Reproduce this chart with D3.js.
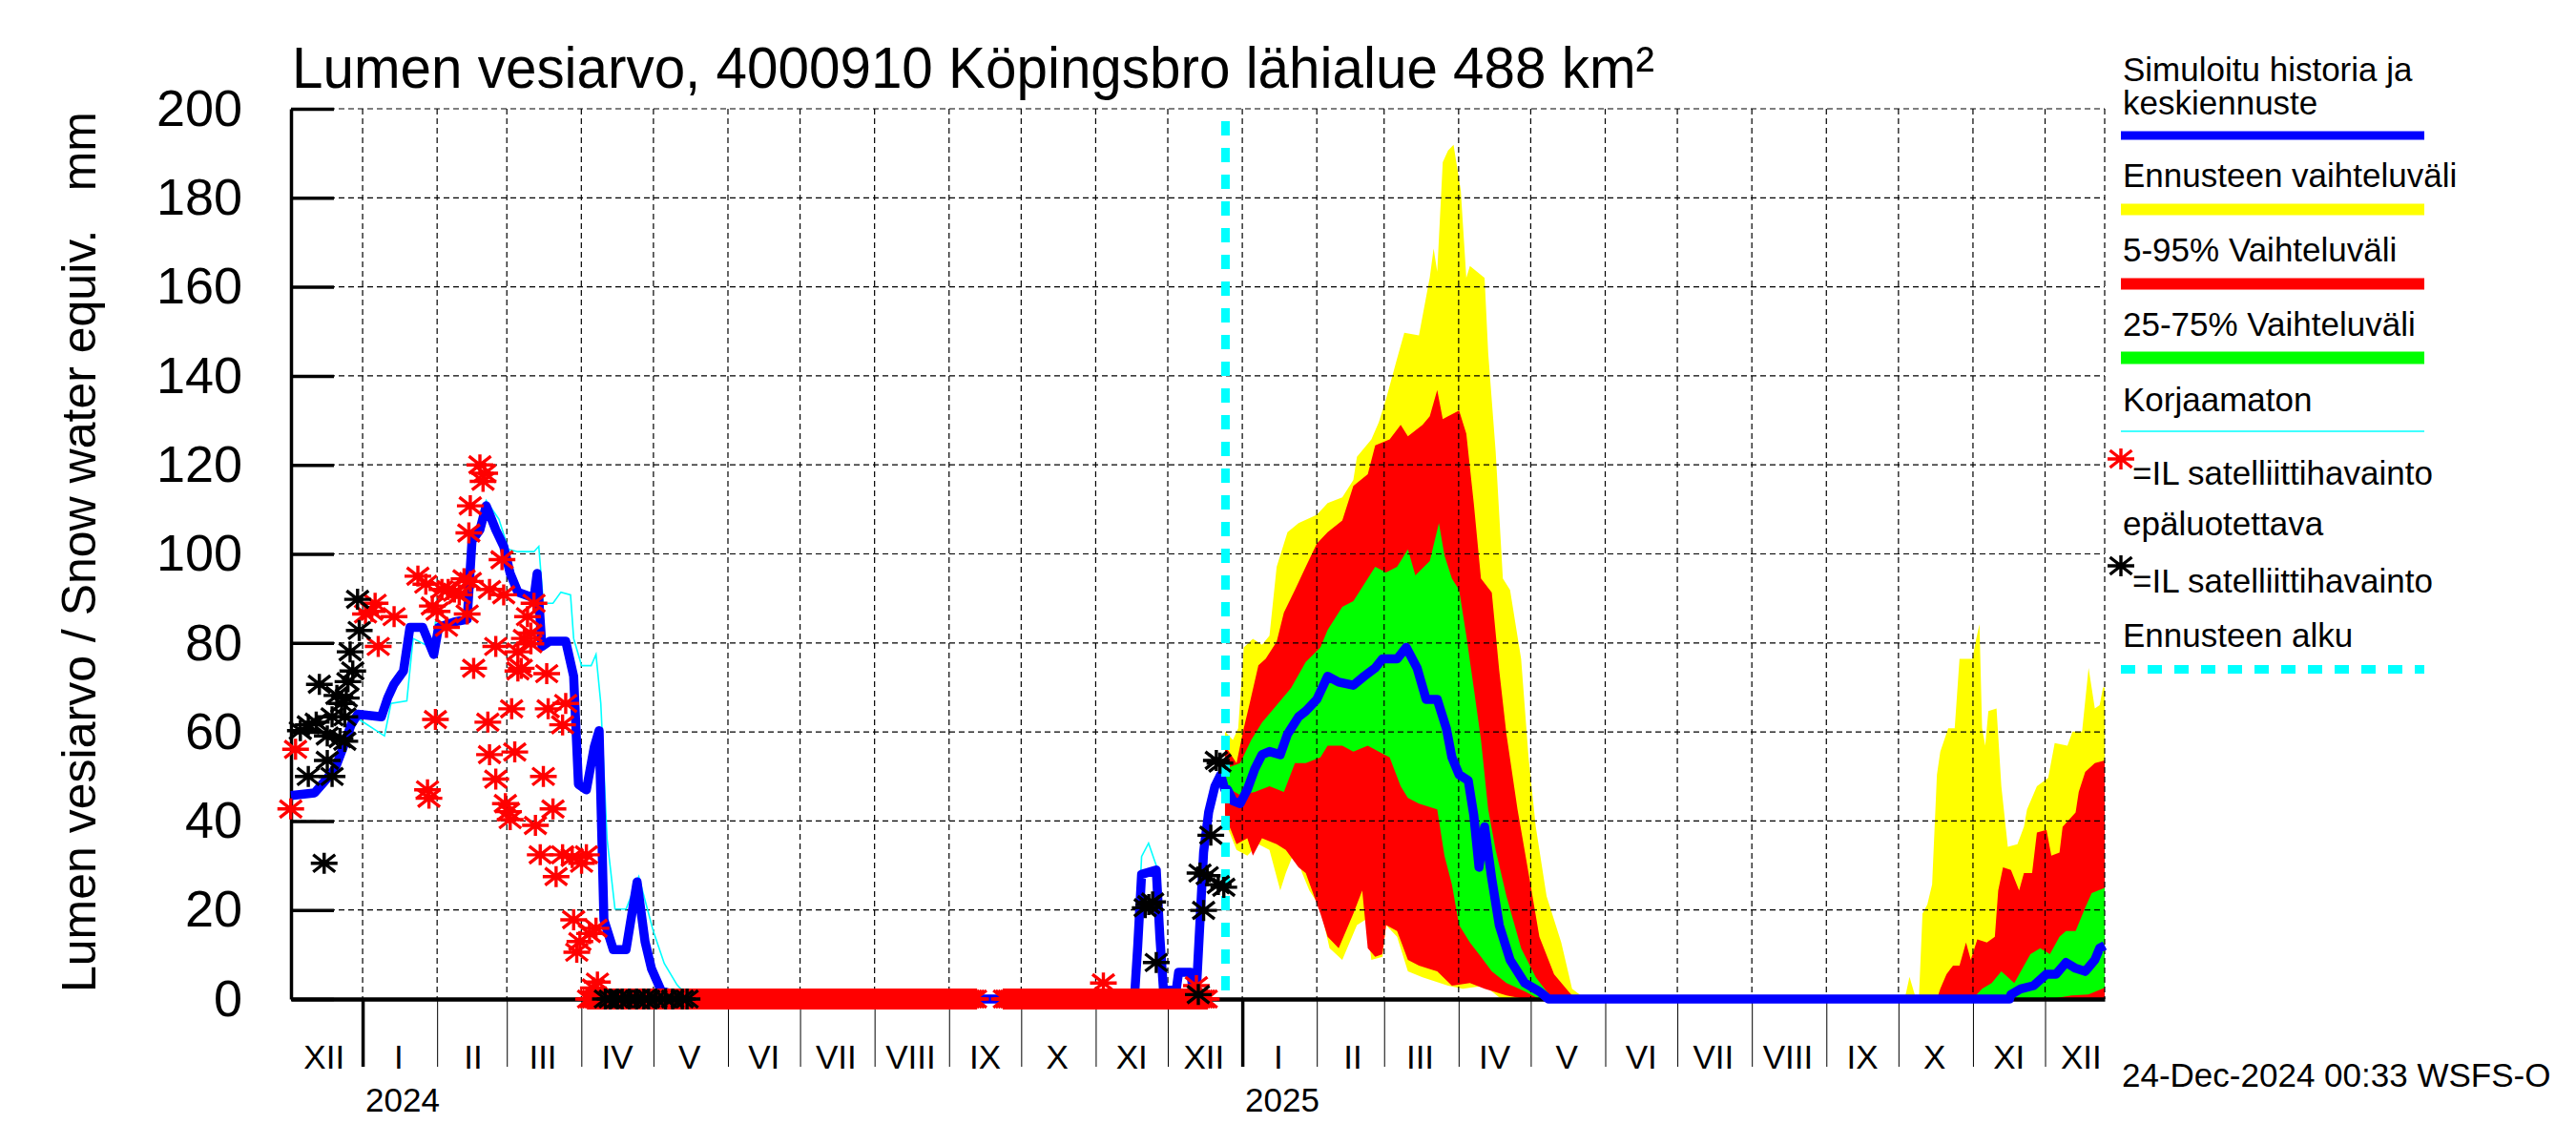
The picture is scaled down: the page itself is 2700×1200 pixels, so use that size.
<!DOCTYPE html>
<html>
<head>
<meta charset="utf-8">
<script src="https://cdn.jsdelivr.net/npm/d3@7"></script>
<style>
  body { margin: 0; background: #fff; }
  svg { display: block; }
  text { font-family: "Liberation Sans", Arial, Helvetica, sans-serif; fill: #000; }
</style>
</head>
<body>
<svg id="chart" width="2700" height="1200"></svg>
<script>
// ---- data -------------------------------------------------------------
// history arrays: [days since 2024-01-01, mm]; fc* arrays: [days since 2025-01-01, mm]
const yTicks = [0, 20, 40, 60, 80, 100, 120, 140, 160, 180, 200];
const romanMonths = ["I","II","III","IV","V","VI","VII","VIII","IX","X","XI","XII"];
const yearLabels = ["2024", "2025"];
const forecastStartDay = 359;

const blueHist = [[-29.8,45.7],[-20,46.3],[-16,48.8],[-11.4,51.8],[-8,56.7],[-4.8,61.6],[-2,64],[7.8,63.4],[10.4,67.6],[13,70.7],[17,73.7],[19.7,83.5],[25,83.5],[29.6,77.4],[31.6,83.5],[38,84.7],[43.5,85.3],[45.5,102.9],[48.8,105.4],[51.4,110.8],[55.4,105.4],[58.7,101.7],[61.4,95.6],[64.6,91.4],[71.3,90.1],[72.6,95.6],[74.6,79.2],[77.9,80.4],[84.5,80.4],[87.8,72.5],[89.8,48.2],[93.1,47],[96.4,56.7],[98.4,60.3],[100.4,17.8],[104.3,11.1],[109.6,11.1],[114.2,26.3],[117.5,12.9],[120.2,6.8],[124.2,1.9],[130.8,0.7],[133,0],
  [321.1,0],[322.5,12],[324.1,28],[330.2,29],[331.7,14],[333.2,2],[338.5,2],[339.5,6],[344.5,6],[345.8,1],[347,3],[349.9,33],[352,42],[354.6,47.8],[357,50.4],[358.7,47.1]];

const fcBlue = [[-7.3,47.1],[-6.2,47.1],[-3.9,44.5],[-0.9,43.9],[2.1,47.1],[5.2,51.7],[8.2,54.9],[11.3,55.6],[15.8,54.9],[18.8,59.5],[23.4,63.4],[26.4,64.7],[31,67.3],[35.5,72.5],[40.1,71.2],[46.2,70.5],[50.7,72.5],[55.3,74.4],[58.3,76.4],[64.4,76.4],[68.2,79],[72.7,74.4],[76.5,67.3],[81.1,67.3],[84.9,60.8],[87.2,54.3],[90.2,50.4],[94,49.1],[96.3,41.3],[98.5,29.6],[100.8,38.7],[103.8,27],[106.9,16.6],[111.4,8.8],[117.5,3.6],[123.6,1.7],[127.4,0],
  [319.2,0],[319.8,1],[323.9,2.3],[329.2,3],[334.6,5.6],[338.6,5.6],[342.7,8.2],[346.7,6.9],[350.7,6.2],[354.7,8.8],[356.7,11.4],[358.8,12]];

const cyanHist = [[-29.8,45.7],[-20,46.3],[-16,48.8],[-11.4,51.8],[-8,56.7],[-4.8,61.6],[-1.4,62.8],[9.1,59.1],[11.8,66.4],[18.4,67],[21,81],[27.6,79.2],[29,77],[30.3,84.7],[43.5,84.7],[46.2,103],[51.4,112],[56.7,107.8],[60.7,101],[64.6,100.5],[71.3,100.5],[73.3,101.7],[75.2,88.9],[79.2,88.9],[82.5,91.4],[86.5,90.8],[87.8,81],[91.1,74.9],[95.1,74.9],[97.1,77.4],[99.1,66.4],[101.7,36],[105,20.2],[109.6,20.2],[114.9,27.5],[120.9,15.3],[125.5,8],[130.8,3.2],[136.1,0],
  [321.1,0],[322.5,14],[324.1,32],[327,35],[330.2,30],[331.7,14],[333.2,2],[338.5,2],[339.5,6],[344.5,6],[345.8,1],[347,3],[349.9,35],[352,44],[354.6,49],[357,51],[358.7,47.5]];

const fcMax = [[-7.2,60.1],[-3.9,58.2],[-1.7,60.8],[0.6,79],[4.4,80.9],[8.2,79.6],[11.3,81.6],[14.3,97.1],[18.8,104.9],[23.4,106.9],[31,108.8],[35.5,111.4],[41.6,112.7],[46.2,116.6],[47.7,121.8],[53.7,125.7],[56.8,129.6],[59.8,134.8],[64.4,143.9],[67.4,149.7],[73.5,149.1],[78,162.1],[79.6,168.6],[81.1,163.4],[83.4,188],[85.6,190.6],[87.9,191.9],[90.9,181.6],[93.2,162],[94.7,164.7],[96.3,164],[100.8,162],[102.3,145.2],[105.4,123.1],[108.4,94.5],[111.4,91.9],[116,76.4],[119.1,54.3],[122.1,38.7],[126.6,23.1],[132.7,12.7],[137.2,2.3],[140.3,1],[142.5,0],
  [275.6,0],[277.6,5],[280.3,0],[281.5,0],[283,19.2],[285,21.2],[287,25.7],[289,50.4],[290.4,55.6],[293.7,60.8],[296.4,60.8],[298.4,76.4],[303.8,76.4],[305.1,80.3],[306.7,84.2],[307.8,60.8],[309.1,56.9],[310.4,64.7],[313.8,65.3],[315.8,47.8],[318.5,34.2],[322.5,34.8],[325.2,38.7],[326.5,42.6],[330.6,47.8],[335.3,49.7],[338,57.5],[343.3,56.9],[345.4,60.1],[349.4,60.1],[352.1,74.4],[354.7,65.3],[356.7,66],[358.1,70],[358.8,70]];
const fcMin = [[-7.2,40],[-2.4,33.5],[2.1,32.2],[6.7,34.8],[11.3,33.5],[15.8,24.4],[18.1,28.3],[21.9,33.5],[24.9,28.3],[27.9,24.4],[32.5,20.5],[36.3,11.4],[41.6,8.8],[47.7,16.6],[51.5,17.9],[53.7,8.8],[58.3,9.5],[59.8,16.6],[64.4,14],[68.9,6.2],[75,4.9],[85.6,3],[91.7,2.3],[100.8,3],[106.9,0.4],[109.9,0],[358.8,0]];

const fcP95 = [[-7.2,56.9],[-2.4,53],[0.6,60.8],[2.9,66],[6.7,75],[9.7,76.4],[14.3,80.3],[17.3,86.8],[21.9,91.9],[26.4,97.1],[31,102.3],[35.5,104.9],[41.6,107.5],[46.2,115.3],[52.2,117.9],[55.3,124.4],[61.3,125.7],[65.9,129],[68.9,126.4],[75,129],[78,130.9],[81.1,136.8],[83.4,130.3],[85.6,130.9],[90.2,132.2],[93.2,127],[96.3,111.4],[99.3,94.5],[103.8,91.3],[106.9,73.8],[109.9,59.5],[114.5,42.6],[119.1,28.3],[123.6,14],[129.7,5.6],[135.7,1.7],[138.7,0],
  [289,0],[290.4,2.3],[293,5.6],[295.7,7.5],[298.4,7.5],[301.1,12.7],[303.1,8.8],[305.8,13.4],[309.8,12.7],[313.1,14],[314.5,24.4],[316.5,29.6],[319.8,29],[323.2,24.4],[325.2,28.3],[328.6,28.3],[330.6,37.4],[334.6,38],[336.6,32.2],[340,32.9],[341.3,38.7],[346.7,41.9],[348,46.5],[350.7,51],[354.7,53],[358.8,53.6]];
const fcP05 = [[-7.2,41.3],[-2.4,34.8],[2.1,36.1],[4.4,32.2],[8.2,36.1],[14.3,34.8],[18.1,33.5],[23.4,29.6],[26.4,28.3],[32.5,19.2],[35.5,14],[40.1,11.4],[46.2,19.2],[49.9,24.4],[52.2,11.4],[55.3,9.5],[58.3,10.1],[59.8,16.6],[64.4,15.3],[68.9,8.8],[73.5,7.5],[81.1,6.2],[87.2,3],[94.7,3.6],[100.8,2.3],[109.9,0.8],[117.5,0],[358.8,0]];

const fcP75 = [[-7.2,51.7],[-0.9,53],[3.7,58.2],[8.2,62.1],[14.3,66],[20.3,69.9],[26.4,75.7],[32.5,79],[35.5,82.9],[41.6,88.1],[46.2,89.4],[50.7,93.2],[55.3,97.1],[59.8,95.8],[64.4,97.1],[68.9,101],[72,95.2],[78,98.4],[81.8,106.9],[84.1,99.7],[87.2,94.5],[90.2,91.9],[93.2,81.6],[96.3,69.9],[99.3,58.2],[102.3,42.6],[105.4,33.5],[109.9,23.1],[116,11.4],[122.1,4.9],[126.6,1.7],[129.7,0],
  [303.8,0],[307.8,2.3],[311.8,3.6],[315.8,6.2],[321.2,3.6],[327.9,10.1],[332,11.4],[336,10.1],[340,14],[342.7,15.3],[346.7,15.3],[350.7,20.5],[353.4,23.8],[358.8,25]];
const fcP25 = [[-7.2,47.8],[-0.9,45.8],[5.2,46.5],[11.3,47.8],[17.3,46.5],[21.9,53],[26.4,53],[32.5,54.3],[35.5,56.9],[41.6,56.9],[46.2,55.6],[52.2,56.9],[56.8,55.6],[61.3,54.3],[65.9,47.8],[68.9,45.2],[73.5,43.9],[81.1,42.6],[84.1,32.2],[87.2,25.7],[90.2,16.6],[94.7,12.7],[99.3,9.5],[103.8,6.2],[109.9,3.6],[117.5,1.7],[123.6,0],[336,0],[345,0.8],[352,1],[358.8,2.5]];

// satellite observations, "unreliable" (red) and regular (black)
const redObs = [[-29.9,42.7],[-27.9,56.1],[1.2,86.5],[3.8,87.1],[5.2,88.9],[6.5,79.2],[13.1,85.9],[23,95],[26.3,93.2],[27,47],[27.6,45.1],[29,88.3],[30.3,62.8],[31,87.1],[33,92],[34.9,83.5],[35.6,92],[38.2,91.4],[40.2,90.8],[42.2,94.4],[43.5,86.5],[44.2,104.7],[44.8,110.8],[44.8,93.8],[46.2,74.3],[48.8,120],[50.1,116.3],[50.8,118.1],[52.1,62.2],[52.8,54.9],[52.8,92],[55.4,49.4],[55.4,79.2],[58,98.7],[58.7,90.8],[59.4,43.9],[60.7,42.1],[61.4,40.3],[62,65.2],[63.3,55.5],[64.6,78],[64.6,73.7],[66,74.3],[67.3,81],[68.6,85.9],[70,82.2],[70,79.8],[71.3,88.9],[71.9,39],[73.9,32.4],[75.2,50],[76.6,73.1],[77.2,65.2],[79.2,42.7],[80.5,27.5],[83.2,32.4],[83.2,61.6],[84.5,66.4],[87.2,31.8],[87.8,17.8],[89.1,10.5],[90.4,12.9],[91.1,30.5],[93.1,32.4],[94.4,14.7],[96,2.5],[97.1,15.9],[97.7,3.8],[308.2,3.6],[346.9,3]];
// daily zero readings: [first day, last day]
const redZeroRuns = [[94, 255], [267, 351]];

const blackObs = [[-25.9,60.3],[-22.6,61.6],[-22.6,50],[-19.3,62.2],[-18,70.7],[-16,30.5],[-14.7,59.1],[-14.7,53.6],[-12.7,63.4],[-12.7,50],[-10.7,68.2],[-9.4,58.5],[-8.7,66.4],[-7.4,63.4],[-7.4,57.9],[-6.8,67.6],[-6.1,71.3],[-5.2,78],[-4.1,73.7],[-2.1,89.8],[-1.4,82.8],
  [101,0],[103,0],[106,0],[108,0],[111,0],[114,0],[117,0],[119,0],[122,0],[126,0],[129,0],[133,0],[135,0],
  [325.6,20.5],[327.1,21.2],[328.7,21.8],[330.2,8.2],[347.7,1],[348.4,28.3],[349.9,19.9],[351.4,27.7],[352.9,36.8],[355.2,53.6],[356,25.7],[356.7,53],[358.3,25.1]];

// ---- helpers ------------------------------------------------------------
const DAY = 864e5;
const h = d => new Date(Date.UTC(2024, 0, 1) + d * DAY);
const f = d => new Date(Date.UTC(2025, 0, 1) + d * DAY);

const pL = 305, pR = 2206, pT = 114, pB = 1047;

const x = d3.scaleUtc().domain([h(-29.8), h(724.8)]).range([pL, pR]);
const y = d3.scaleLinear().domain([0, 200]).range([pB, pT]);

const svg = d3.select('#chart');
svg.append('rect').attr('width', 2700).attr('height', 1200).attr('fill', '#fff');

const line = d3.line().x(p => x(p[0])).y(p => y(p[1]));
const band = (hi, lo) => line([...hi.map(p => [f(p[0]), p[1]]), ...lo.slice().reverse().map(p => [f(p[0]), p[1]])]) + 'Z';

// ---- bands --------------------------------------------------------------
const gBands = svg.append('g');
gBands.append('path').attr('d', band(fcMax, fcMin)).attr('fill', '#ffff00');
gBands.append('path').attr('d', band(fcP95, fcP05)).attr('fill', '#ff0000');
gBands.append('path').attr('d', band(fcP75, fcP25)).attr('fill', '#00ff00');

// ---- grid ---------------------------------------------------------------
const monthStarts = d3.utcMonth.range(h(0), h(725));
const grid = svg.append('g').attr('stroke', '#000').attr('stroke-width', 1.2).attr('stroke-dasharray', '6,4');
grid.selectAll('line.h').data(yTicks.slice(1)).join('line')
  .attr('x1', pL).attr('x2', pR).attr('y1', d => y(d)).attr('y2', d => y(d));
grid.selectAll('line.v').data(monthStarts).join('line')
  .attr('x1', d => x(d)).attr('x2', d => x(d)).attr('y1', pT).attr('y2', pB);
grid.append('line').attr('x1', pR).attr('x2', pR).attr('y1', pT).attr('y2', pB);

// ---- axes ---------------------------------------------------------------
const xAxis = svg.append('g').attr('transform', `translate(0,${pB})`)
  .call(d3.axisBottom(x).tickValues(monthStarts).tickSize(71).tickSizeOuter(0).tickFormat(''));
xAxis.select('.domain').attr('stroke', '#000').attr('stroke-width', 4.5);
xAxis.selectAll('.tick line').attr('stroke', '#000')
  .attr('stroke-width', d => d.getUTCMonth() === 0 ? 3.5 : 1);

const yAxis = svg.append('g').attr('transform', `translate(${pL},0)`)
  .call(d3.axisLeft(y).tickValues(yTicks).tickSize(-45).tickSizeOuter(0).tickPadding(51).tickFormat(d3.format('d')));
yAxis.select('.domain').attr('stroke', '#000').attr('stroke-width', 3.5);
yAxis.selectAll('.tick line').attr('stroke', '#000').attr('stroke-width', 3.5);
yAxis.selectAll('.tick text').attr('font-size', 54).attr('font-family', '"Liberation Sans", Arial, sans-serif').attr('fill', '#000');

// month and year labels
const labelMonths = d3.utcMonth.range(new Date(Date.UTC(2023, 11, 1)), new Date(Date.UTC(2026, 0, 1)));
svg.append('g').selectAll('text').data(labelMonths).join('text')
  .attr('x', d => x(new Date(d.getTime() + 15 * DAY)))
  .attr('y', 1120).attr('text-anchor', 'middle').attr('font-size', 35)
  .text(d => romanMonths[d.getUTCMonth()]);
svg.append('g').selectAll('text').data(yearLabels).join('text')
  .attr('x', d => x(new Date(Date.UTC(+d, 0, 1))) + 3)
  .attr('y', 1165).attr('font-size', 35).text(d => d);

// ---- lines --------------------------------------------------------------
svg.append('path').attr('d', line(cyanHist.map(p => [h(p[0]), p[1]])))
  .attr('fill', 'none').attr('stroke', '#00ffff').attr('stroke-width', 1.6);
svg.append('path').attr('d', line([...blueHist.map(p => [h(p[0]), p[1]]), ...fcBlue.map(p => [f(p[0]), p[1]])]))
  .attr('fill', 'none').attr('stroke', '#0000ff').attr('stroke-width', 9.5).attr('stroke-linejoin', 'round');

// forecast start
svg.append('line').attr('x1', x(h(forecastStartDay))).attr('x2', x(h(forecastStartDay)))
  .attr('y1', 127).attr('y2', pB)
  .attr('stroke', '#00ffff').attr('stroke-width', 9).attr('stroke-dasharray', '15,13');

// ---- observation markers -----------------------------------------------
const star = 'M-14,0H14M0,-11V11M-11.5,-9L11.5,9M-11.5,9L11.5,-9';
const redAll = [...redObs];
redZeroRuns.forEach(([a, b]) => { for (let d = a; d <= b; d++) redAll.push([d, 0]); });

svg.append('g').selectAll('path').data(redAll).join('path')
  .attr('d', star).attr('transform', p => `translate(${x(h(p[0]))},${y(p[1])})`)
  .attr('fill', 'none').attr('stroke', '#ff0000').attr('stroke-width', 3.4);
svg.append('g').selectAll('path').data(blackObs).join('path')
  .attr('d', star).attr('transform', p => `translate(${x(h(p[0]))},${y(p[1])})`)
  .attr('fill', 'none').attr('stroke', '#000').attr('stroke-width', 3.4);

// ---- texts --------------------------------------------------------------
svg.append('text').attr('x', 306).attr('y', 92).attr('font-size', 62)
  .attr('textLength', 1428).attr('lengthAdjust', 'spacingAndGlyphs')
  .text('Lumen vesiarvo, 4000910 Köpingsbro lähialue 488 km²');

svg.append('text').attr('transform', 'translate(100,1040) rotate(-90)')
  .attr('font-size', 50)
  .text('Lumen vesiarvo / Snow water equiv.');
svg.append('text').attr('transform', 'translate(100,117) rotate(-90)')
  .attr('font-size', 50).attr('text-anchor', 'end').text('mm');

svg.append('text').attr('x', 2224).attr('y', 1139).attr('font-size', 35)
  .text('24-Dec-2024 00:33 WSFS-O');

// ---- legend -------------------------------------------------------------
const lg = svg.append('g');
const lx = 2225, lx2 = 2541;
const legText = [
  ['Simuloitu historia ja', lx, 85], ['keskiennuste', lx, 119.5],
  ['Ennusteen vaihteluväli', lx, 196], ['5-95% Vaihteluväli', lx, 274],
  ['25-75% Vaihteluväli', lx, 352], ['Korjaamaton', lx, 430.5],
  ['=IL satelliittihavainto', 2235, 508], ['epäluotettava', lx, 561],
  ['=IL satelliittihavainto', 2235, 620.5], ['Ennusteen alku', lx, 678]
];
lg.selectAll('text').data(legText).join('text')
  .attr('x', d => d[1]).attr('y', d => d[2]).attr('font-size', 35).text(d => d[0]);
const legLines = [
  ['#0000ff', 142, 9, null], ['#ffff00', 219.6, 12, null], ['#ff0000', 297.5, 12, null],
  ['#00ff00', 375, 13, null], ['#00ffff', 452, 1.5, null], ['#00ffff', 701.5, 9, '15,13']
];
lg.selectAll('line').data(legLines).join('line')
  .attr('x1', 2223).attr('x2', lx2).attr('y1', d => d[1]).attr('y2', d => d[1])
  .attr('stroke', d => d[0]).attr('stroke-width', d => d[2]).attr('stroke-dasharray', d => d[3]);
lg.append('path').attr('d', star).attr('transform', 'translate(2223,481)')
  .attr('fill', 'none').attr('stroke', '#ff0000').attr('stroke-width', 3.4);
lg.append('path').attr('d', star).attr('transform', 'translate(2223,593)')
  .attr('fill', 'none').attr('stroke', '#000').attr('stroke-width', 3.4);
</script>
</body>
</html>
